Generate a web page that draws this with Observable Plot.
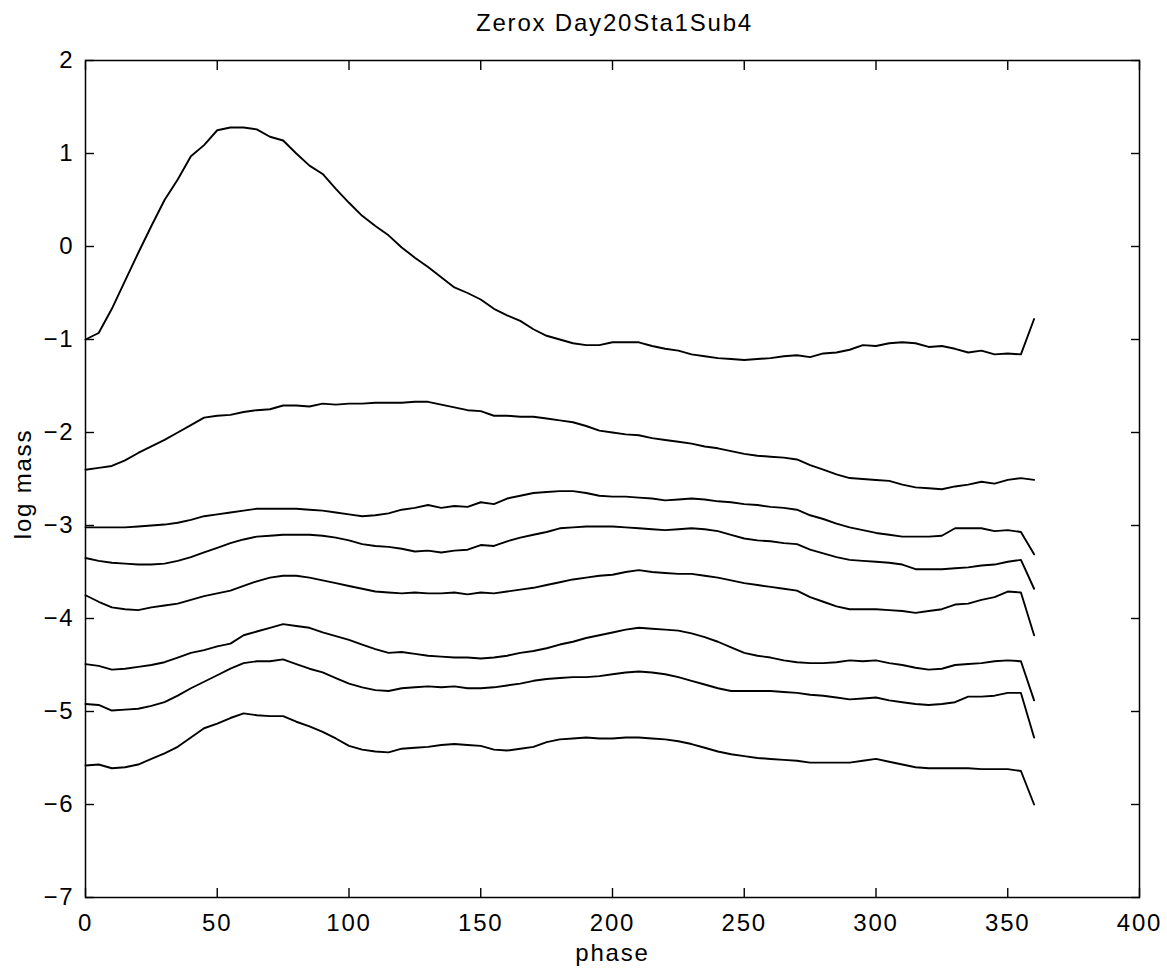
<!DOCTYPE html>
<html><head><meta charset="utf-8">
<script src="https://cdn.jsdelivr.net/npm/d3@7"></script>
<script src="https://cdn.jsdelivr.net/npm/@observablehq/plot@0.6"></script>
<style>body{margin:0;background:#fff} svg text{letter-spacing:1.8px}</style>
</head><body><div id="chart"></div>
<script>
const phase = [0,5,10,15,20,25,30,35,40,45,50,55,60,65,70,75,80,85,90,95,100,105,110,115,120,125,130,135,140,145,150,155,160,165,170,175,180,185,190,195,200,205,210,215,220,225,230,235,240,245,250,255,260,265,270,275,280,285,290,295,300,305,310,315,320,325,330,335,340,345,350,355,360];

const s1 = [-1.0,-0.93,-0.67,-0.37,-0.07,0.22,0.5,0.72,0.97,1.09,1.25,1.28,1.28,1.26,1.18,1.14,1.0,0.87,0.78,0.62,0.47,0.33,0.22,0.12,-0.01,-0.12,-0.22,-0.33,-0.44,-0.5,-0.57,-0.67,-0.74,-0.8,-0.89,-0.96,-1.0,-1.04,-1.06,-1.06,-1.03,-1.03,-1.03,-1.07,-1.1,-1.12,-1.16,-1.18,-1.2,-1.21,-1.22,-1.21,-1.2,-1.18,-1.17,-1.19,-1.15,-1.14,-1.11,-1.06,-1.07,-1.04,-1.03,-1.04,-1.08,-1.07,-1.1,-1.14,-1.12,-1.16,-1.15,-1.16,-0.78];
const s2 = [-2.4,-2.38,-2.36,-2.3,-2.22,-2.15,-2.08,-2.0,-1.92,-1.84,-1.82,-1.81,-1.78,-1.76,-1.75,-1.71,-1.71,-1.72,-1.69,-1.7,-1.69,-1.69,-1.68,-1.68,-1.68,-1.67,-1.67,-1.7,-1.73,-1.76,-1.77,-1.82,-1.82,-1.83,-1.83,-1.85,-1.87,-1.89,-1.93,-1.98,-2.0,-2.02,-2.03,-2.06,-2.08,-2.1,-2.12,-2.15,-2.17,-2.2,-2.23,-2.25,-2.26,-2.27,-2.29,-2.35,-2.4,-2.45,-2.49,-2.5,-2.51,-2.52,-2.56,-2.59,-2.6,-2.61,-2.58,-2.56,-2.53,-2.55,-2.51,-2.49,-2.51];
const s3 = [-3.02,-3.02,-3.02,-3.02,-3.01,-3.0,-2.99,-2.97,-2.94,-2.9,-2.88,-2.86,-2.84,-2.82,-2.82,-2.82,-2.82,-2.83,-2.84,-2.86,-2.88,-2.9,-2.89,-2.87,-2.83,-2.81,-2.78,-2.81,-2.79,-2.8,-2.75,-2.77,-2.71,-2.68,-2.65,-2.64,-2.63,-2.63,-2.65,-2.68,-2.69,-2.69,-2.7,-2.71,-2.73,-2.72,-2.71,-2.72,-2.74,-2.75,-2.77,-2.78,-2.8,-2.81,-2.83,-2.89,-2.93,-2.98,-3.02,-3.05,-3.08,-3.1,-3.12,-3.12,-3.12,-3.11,-3.03,-3.03,-3.03,-3.06,-3.05,-3.07,-3.31];
const s4 = [-3.35,-3.38,-3.4,-3.41,-3.42,-3.42,-3.41,-3.38,-3.34,-3.29,-3.24,-3.19,-3.15,-3.12,-3.11,-3.1,-3.1,-3.1,-3.11,-3.13,-3.16,-3.2,-3.22,-3.23,-3.25,-3.28,-3.27,-3.29,-3.27,-3.26,-3.21,-3.22,-3.17,-3.13,-3.1,-3.07,-3.03,-3.02,-3.01,-3.01,-3.01,-3.02,-3.03,-3.04,-3.05,-3.04,-3.03,-3.04,-3.06,-3.1,-3.14,-3.16,-3.17,-3.19,-3.2,-3.26,-3.3,-3.34,-3.37,-3.38,-3.39,-3.4,-3.42,-3.47,-3.47,-3.47,-3.46,-3.45,-3.43,-3.42,-3.39,-3.37,-3.68];
const s5 = [-3.75,-3.82,-3.88,-3.9,-3.91,-3.88,-3.86,-3.84,-3.8,-3.76,-3.73,-3.7,-3.65,-3.6,-3.56,-3.54,-3.54,-3.56,-3.59,-3.62,-3.65,-3.68,-3.71,-3.72,-3.73,-3.72,-3.73,-3.73,-3.72,-3.74,-3.72,-3.73,-3.71,-3.69,-3.67,-3.64,-3.61,-3.58,-3.56,-3.54,-3.53,-3.5,-3.48,-3.5,-3.51,-3.52,-3.52,-3.54,-3.56,-3.59,-3.62,-3.64,-3.66,-3.68,-3.7,-3.77,-3.82,-3.87,-3.9,-3.9,-3.9,-3.91,-3.92,-3.94,-3.92,-3.9,-3.85,-3.84,-3.8,-3.77,-3.71,-3.72,-4.18];
const s6 = [-4.49,-4.51,-4.55,-4.54,-4.52,-4.5,-4.47,-4.42,-4.37,-4.34,-4.3,-4.27,-4.18,-4.14,-4.1,-4.06,-4.08,-4.1,-4.15,-4.19,-4.23,-4.28,-4.33,-4.37,-4.36,-4.38,-4.4,-4.41,-4.42,-4.42,-4.43,-4.42,-4.4,-4.37,-4.35,-4.32,-4.28,-4.25,-4.21,-4.18,-4.15,-4.12,-4.1,-4.11,-4.12,-4.13,-4.16,-4.2,-4.25,-4.31,-4.37,-4.4,-4.42,-4.45,-4.47,-4.48,-4.48,-4.47,-4.45,-4.46,-4.45,-4.48,-4.5,-4.53,-4.55,-4.54,-4.5,-4.49,-4.48,-4.46,-4.45,-4.46,-4.88];
const s7 = [-4.92,-4.93,-4.99,-4.98,-4.97,-4.94,-4.9,-4.83,-4.75,-4.68,-4.61,-4.54,-4.48,-4.46,-4.46,-4.44,-4.49,-4.54,-4.58,-4.64,-4.7,-4.74,-4.77,-4.78,-4.75,-4.74,-4.73,-4.74,-4.73,-4.75,-4.75,-4.74,-4.72,-4.7,-4.67,-4.65,-4.64,-4.63,-4.63,-4.62,-4.6,-4.58,-4.57,-4.58,-4.6,-4.63,-4.67,-4.71,-4.75,-4.78,-4.78,-4.78,-4.78,-4.79,-4.8,-4.82,-4.83,-4.85,-4.87,-4.86,-4.85,-4.88,-4.9,-4.92,-4.93,-4.92,-4.9,-4.84,-4.84,-4.83,-4.8,-4.8,-5.28];
const s8 = [-5.58,-5.57,-5.61,-5.6,-5.57,-5.51,-5.45,-5.38,-5.28,-5.18,-5.13,-5.07,-5.02,-5.04,-5.05,-5.05,-5.11,-5.16,-5.22,-5.29,-5.37,-5.41,-5.43,-5.44,-5.4,-5.39,-5.38,-5.36,-5.35,-5.36,-5.37,-5.41,-5.42,-5.4,-5.38,-5.33,-5.3,-5.29,-5.28,-5.29,-5.29,-5.28,-5.28,-5.29,-5.3,-5.32,-5.35,-5.39,-5.43,-5.46,-5.48,-5.5,-5.51,-5.52,-5.53,-5.55,-5.55,-5.55,-5.55,-5.53,-5.51,-5.54,-5.57,-5.6,-5.61,-5.61,-5.61,-5.61,-5.62,-5.62,-5.62,-5.64,-6.0];

const seriesNames = ["s1","s2","s3","s4","s5","s6","s7","s8"];
const seriesValues = [s1,s2,s3,s4,s5,s6,s7,s8];
const xTicks = [0,50,100,150,200,250,300,350,400];
const yTicks = [-7,-6,-5,-4,-3,-2,-1,0,1,2];
const titleText = "Zerox Day20Sta1Sub4";
const xLabel = "phase";
const yLabel = "log mass";

const fmt = d => (d < 0 ? "\u2212" + Math.abs(d) : String(d));

const data = seriesValues.flatMap((vals, i) => vals.map((v, j) => ({series: seriesNames[i], phase: phase[j], value: v})));

const chart = Plot.plot({
  width: 1167, height: 971,
  marginLeft: 85, marginRight: 28, marginTop: 60, marginBottom: 74,
  x: {domain: [0, 400]},
  y: {domain: [-7, 2]},
  style: {fontFamily: "'Liberation Sans', Arial, sans-serif", fontSize: "24px", background: "white", color: "black", overflow: "visible"},
  marks: [
    Plot.axisX(xTicks, {anchor: "bottom", tickSize: 0, tickPadding: 16, label: null, tickFormat: fmt}),
    Plot.axisX(xTicks, {anchor: "bottom", tickSize: -9, fill: "none", label: null, strokeWidth: 1.4}),
    Plot.axisX(xTicks, {anchor: "top", tickSize: -9, fill: "none", label: null, strokeWidth: 1.4}),
    Plot.axisY(yTicks, {anchor: "left", tickSize: 0, tickPadding: 11, label: null, tickFormat: fmt}),
    Plot.axisY(yTicks, {anchor: "left", tickSize: -9, fill: "none", label: null, strokeWidth: 1.4}),
    Plot.axisY(yTicks, {anchor: "right", tickSize: -9, fill: "none", label: null, strokeWidth: 1.4}),
    Plot.frame({stroke: "black", strokeWidth: 1.5}),
    Plot.line(data, {x: "phase", y: "value", z: "series", stroke: "black", strokeWidth: 1.9}),
    Plot.text([titleText], {frameAnchor: "top", lineAnchor: "top", textAnchor: "middle", dy: -47, dx: 2}),
    Plot.text([xLabel], {frameAnchor: "bottom", lineAnchor: "bottom", textAnchor: "middle", dy: 63}),
    Plot.text([yLabel], {frameAnchor: "left", textAnchor: "middle", lineAnchor: "middle", dx: -62, dy: 5, rotate: -90})
  ]
});
document.getElementById("chart").appendChild(chart);
</script>
</body></html>
